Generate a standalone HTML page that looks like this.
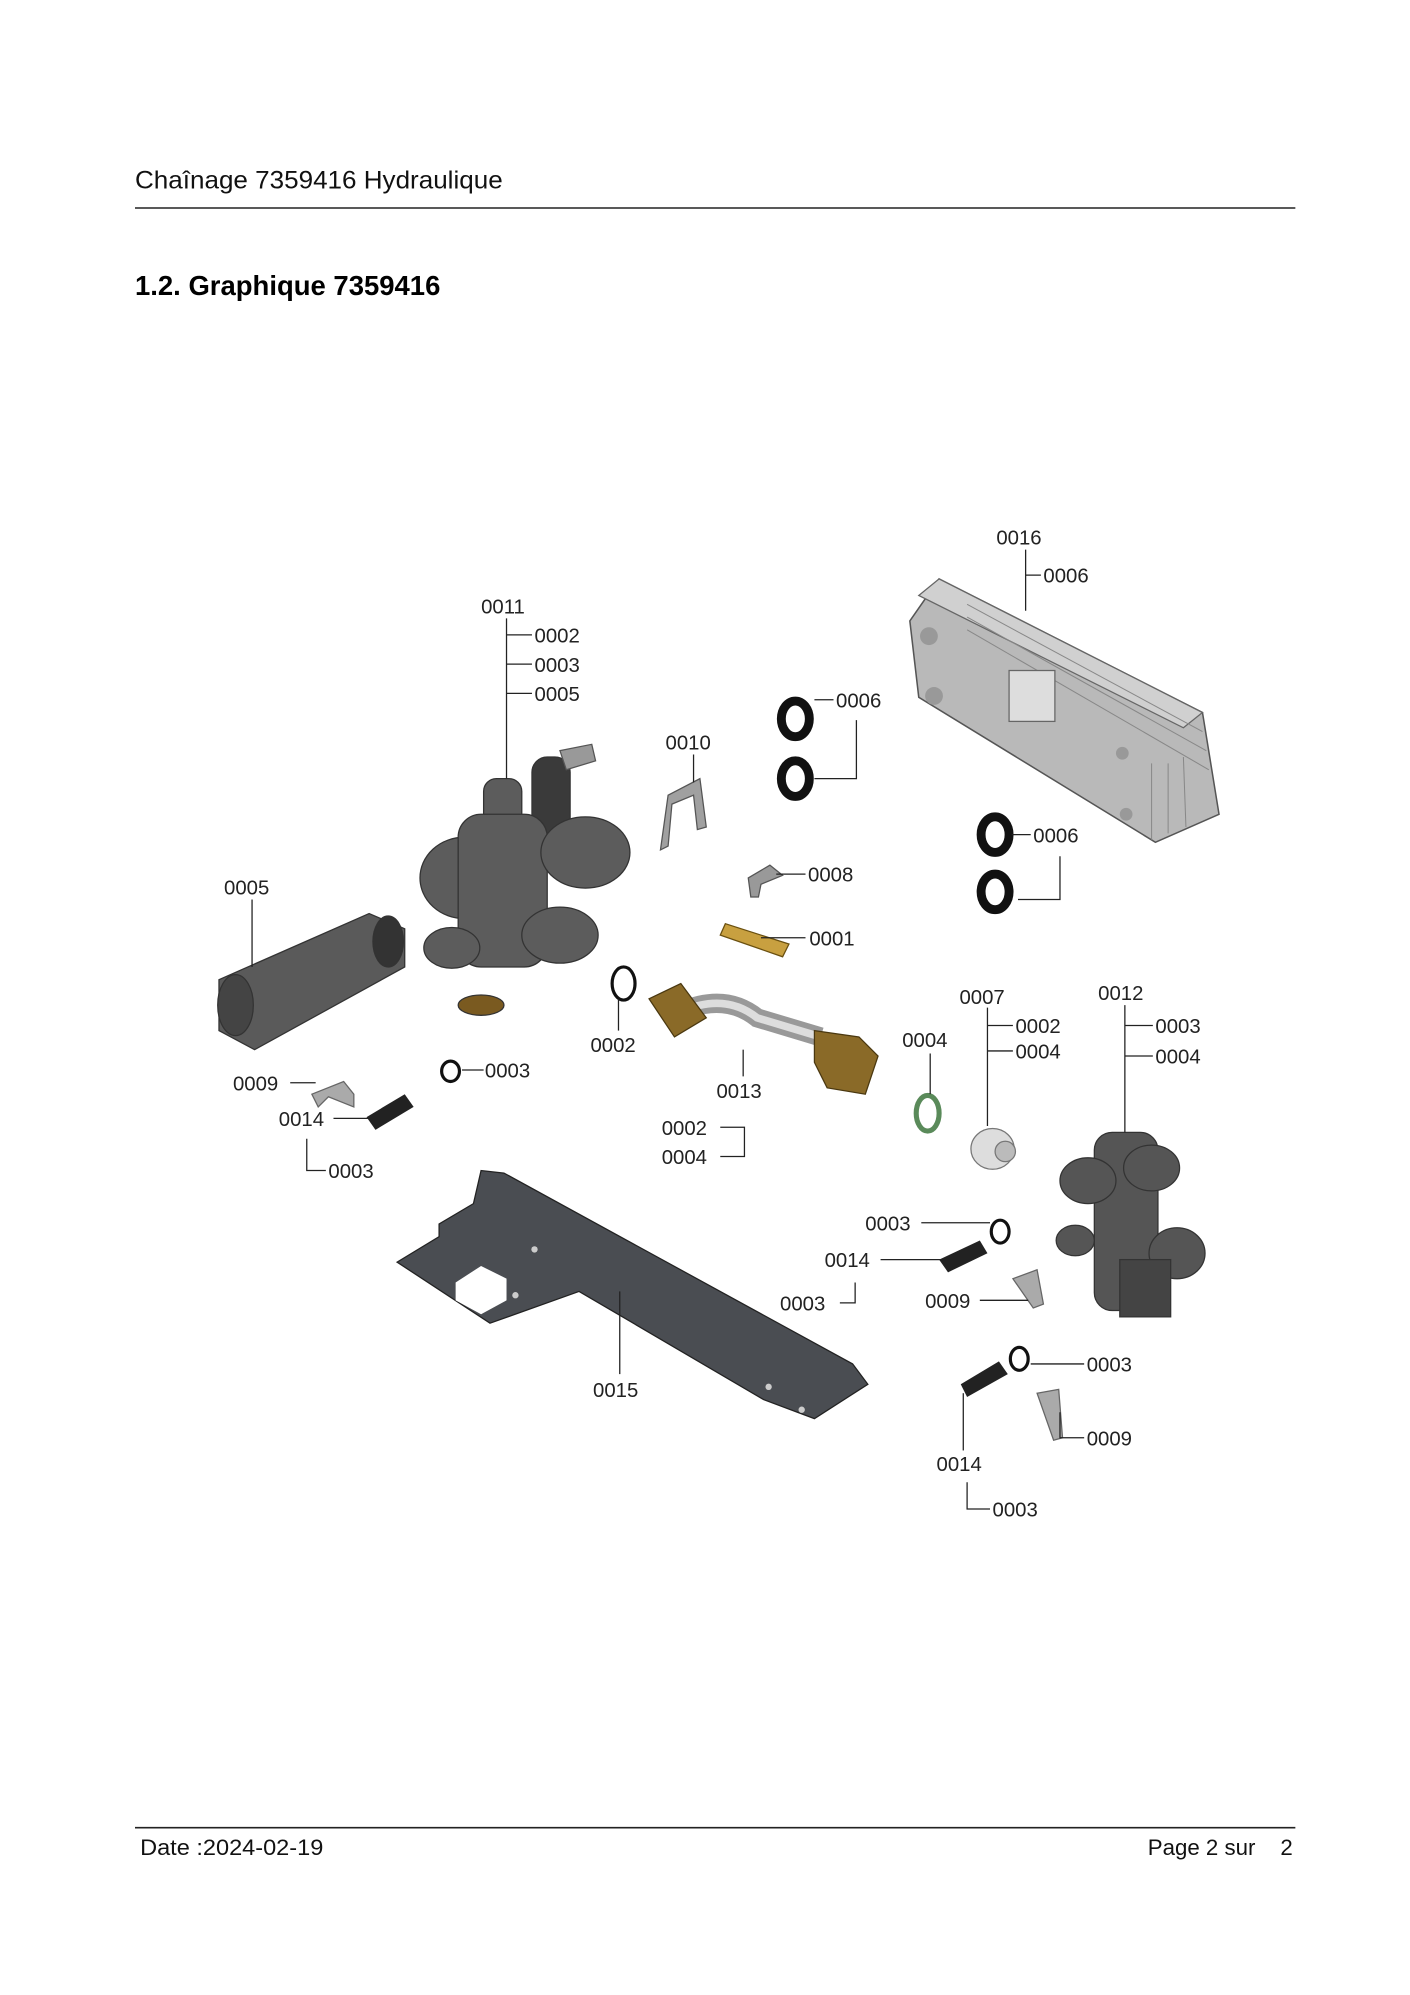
<!DOCTYPE html>
<html><head><meta charset="utf-8"><style>
html,body{margin:0;padding:0;background:#fff}
body{width:1410px;height:1995px;position:relative;overflow:hidden;font-family:"Liberation Sans",sans-serif}
svg{position:absolute;left:0;top:0}
</style></head><body>
<svg width="1410" height="1995" viewBox="0 0 1108 1568" xmlns="http://www.w3.org/2000/svg" font-family="Liberation Sans, sans-serif">
<text x="106" y="148" font-size="19.5" fill="#111" textLength="289" lengthAdjust="spacingAndGlyphs">Chaînage 7359416 Hydraulique</text>
<line x1="106" y1="163.5" x2="1018" y2="163.5" stroke="#222" stroke-width="1.2"/>
<text x="106" y="232" font-size="22" font-weight="bold" fill="#000" textLength="240" lengthAdjust="spacingAndGlyphs">1.2. Graphique 7359416</text>
<line x1="106" y1="1436.5" x2="1018" y2="1436.5" stroke="#222" stroke-width="1.2"/>
<text x="110" y="1458" font-size="17.5" fill="#111" textLength="144" lengthAdjust="spacingAndGlyphs">Date :2024-02-19</text>
<text x="902" y="1458" font-size="17.5" fill="#111">Page 2 sur</text>
<text x="1016" y="1458" font-size="17.5" fill="#111" text-anchor="end">2</text>

<!-- heat exchanger -->
<polygon points="738,455 945,560 958,640 908,662 722,548 715,488" fill="#b9b9b9" stroke="#555" stroke-width="1.2"/>
<polygon points="738,455 945,560 930,572 722,468" fill="#d0d0d0" stroke="#666"/>
<g stroke="#888" stroke-width="0.8"><line x1="760" y1="475" x2="945" y2="575"/><line x1="760" y1="485" x2="948" y2="590"/><line x1="760" y1="495" x2="950" y2="605"/><line x1="905" y1="600" x2="905" y2="660"/><line x1="918" y1="600" x2="918" y2="655"/><line x1="930" y1="595" x2="932" y2="650"/></g>
<rect x="793" y="527" width="36" height="40" fill="#ddd" stroke="#666"/>
<circle cx="730" cy="500" r="7" fill="#999"/><circle cx="734" cy="547" r="7" fill="#999"/>
<circle cx="882" cy="592" r="5" fill="#999"/><circle cx="885" cy="640" r="5" fill="#999"/>

<!-- valve body 0011 -->
<g fill="#5c5c5c" stroke="#333" stroke-width="1">
<rect x="380" y="612" width="30" height="60" rx="10"/>
<rect x="418" y="595" width="30" height="65" rx="12" fill="#3a3a3a"/>
<ellipse cx="365" cy="690" rx="35" ry="32"/>
<rect x="360" y="640" width="70" height="120" rx="18"/>
<ellipse cx="460" cy="670" rx="35" ry="28"/>
<ellipse cx="440" cy="735" rx="30" ry="22"/>
<ellipse cx="355" cy="745" rx="22" ry="16"/>
<ellipse cx="378" cy="790" rx="18" ry="8" fill="#7a5a20"/>
</g>
<polygon points="440,590 465,585 468,598 445,605" fill="#999" stroke="#555"/>
<!-- 0005 cylinder -->
<g stroke="#333"><polygon points="172,770 290,718 318,730 318,760 200,825 172,810" fill="#5a5a5a"/>
<ellipse cx="185" cy="790" rx="14" ry="24" fill="#444"/><ellipse cx="305" cy="740" rx="12" ry="20" fill="#333"/></g>
<!-- clip 0010 -->
<polygon points="525,625 550,612 555,650 548,652 545,625 528,632 525,665 519,668" fill="#a0a0a0" stroke="#555"/>
<!-- o-rings 0006 -->
<g fill="none" stroke="#111" stroke-width="7"><ellipse cx="625" cy="565" rx="11" ry="14"/><ellipse cx="625" cy="612" rx="11" ry="14"/><ellipse cx="782" cy="656" rx="11" ry="14"/><ellipse cx="782" cy="701" rx="11" ry="14"/></g>
<!-- 0008 clip, 0001 sensor -->
<polygon points="588,690 605,680 615,688 598,695 596,705 590,705" fill="#999" stroke="#555"/>
<polygon points="570,726 620,742 615,752 566,735" fill="#c8a040" stroke="#6a5010"/>
<!-- 0002 ring -->
<ellipse cx="490" cy="773" rx="9" ry="13" fill="none" stroke="#111" stroke-width="2.5"/>
<!-- pipe 0013 -->
<path d="M535 795 Q570 780 595 800 L645 815" stroke="#999" stroke-width="15" fill="none"/>
<path d="M535 795 Q570 780 595 800 L645 815" stroke="#ddd" stroke-width="6" fill="none"/>
<polygon points="510,785 535,773 555,800 530,815" fill="#8a6a28" stroke="#4a3810"/>
<polygon points="640,810 675,815 690,830 680,860 650,855 640,835" fill="#8a6a28" stroke="#4a3810"/>
<!-- 0004 green ring -->
<ellipse cx="729" cy="875" rx="9" ry="14" fill="none" stroke="#5a8a5a" stroke-width="4"/>
<!-- 0007 filter -->
<ellipse cx="780" cy="903" rx="17" ry="16" fill="#ddd" stroke="#777"/><circle cx="790" cy="905" r="8" fill="#bbb" stroke="#777"/>
<!-- 0012 body -->
<g fill="#555" stroke="#333"><rect x="860" y="890" width="50" height="140" rx="14"/><ellipse cx="855" cy="928" rx="22" ry="18"/><ellipse cx="905" cy="918" rx="22" ry="18"/><ellipse cx="845" cy="975" rx="15" ry="12"/><ellipse cx="925" cy="985" rx="22" ry="20"/><rect x="880" y="990" width="40" height="45" fill="#444"/></g>
<!-- bracket 0015 -->
<polygon points="312,992 345,972 345,962 372,946 378,920 396,922 670,1072 682,1088 640,1115 600,1100 455,1015 385,1040" fill="#4a4d52" stroke="#222"/>
<polygon points="358,1008 378,995 398,1005 398,1022 378,1033 358,1022" fill="#fff"/>
<circle cx="420" cy="982" r="2.5" fill="#ccc"/><circle cx="405" cy="1018" r="2.5" fill="#ccc"/><circle cx="604" cy="1090" r="2.5" fill="#ccc"/><circle cx="630" cy="1108" r="2.5" fill="#ccc"/>
<!-- small parts -->
<polygon points="245,860 270,850 278,860 278,870 258,862 250,870" fill="#aaa" stroke="#666"/>
<polygon points="288,878 318,860 325,870 295,888" fill="#222"/>
<ellipse cx="354" cy="842" rx="7" ry="8" fill="none" stroke="#111" stroke-width="2.5"/>
<polygon points="738,990 770,975 776,985 745,1000" fill="#222"/>
<ellipse cx="786" cy="968" rx="7" ry="9" fill="none" stroke="#111" stroke-width="2.5"/>
<polygon points="796,1005 815,998 820,1025 812,1028" fill="#aaa" stroke="#666"/>
<polygon points="755,1088 785,1070 792,1080 760,1098" fill="#222"/>
<ellipse cx="801" cy="1068" rx="7" ry="9" fill="none" stroke="#111" stroke-width="2.5"/>
<polygon points="815,1095 832,1092 835,1130 828,1132" fill="#aaa" stroke="#666"/>

<!-- leader lines -->
<g stroke="#222" stroke-width="1" fill="none">
<path d="M806 432V480M806 452H818"/>
<path d="M398 486V612M398 499H418M398 522H418M398 545H418"/>
<path d="M640 550H655M673 566V612H640"/>
<path d="M545 593V615"/>
<path d="M198 707V760"/>
<path d="M610 687H633"/><path d="M598 737H633"/>
<path d="M795 656H810M833 673V707H800"/>
<path d="M486 785V810"/><path d="M584 825V846"/>
<path d="M566 886H585V909H566"/>
<path d="M731 828V860"/>
<path d="M776 792V885M776 806H796M776 826H796"/>
<path d="M884 790V890M884 806H906M884 830H906"/>
<path d="M228 851H248"/><path d="M363 841H380"/><path d="M262 879H290"/>
<path d="M241 895V920H256"/>
<path d="M724 961H778"/><path d="M692 990H740"/><path d="M660 1024H672V1008"/><path d="M770 1022H808"/>
<path d="M487 1015V1080"/>
<path d="M810 1072H852"/><path d="M833 1110V1130H852"/>
<path d="M757 1095V1140"/><path d="M760 1165V1186H778"/>
</g>
<g font-size="16" fill="#222">
<text x="783" y="428">0016</text><text x="820" y="458">0006</text>
<text x="378" y="482">0011</text><text x="420" y="505">0002</text><text x="420" y="528">0003</text><text x="420" y="551">0005</text>
<text x="657" y="556">0006</text><text x="523" y="589">0010</text>
<text x="176" y="703">0005</text><text x="635" y="693">0008</text><text x="636" y="743">0001</text>
<text x="812" y="662">0006</text>
<text x="464" y="827">0002</text><text x="563" y="863">0013</text>
<text x="520" y="892">0002</text><text x="520" y="915">0004</text>
<text x="709" y="823">0004</text>
<text x="754" y="789">0007</text><text x="798" y="812">0002</text><text x="798" y="832">0004</text>
<text x="863" y="786">0012</text><text x="908" y="812">0003</text><text x="908" y="836">0004</text>
<text x="183" y="857">0009</text><text x="381" y="847">0003</text><text x="219" y="885">0014</text><text x="258" y="926">0003</text>
<text x="680" y="967">0003</text><text x="648" y="996">0014</text><text x="613" y="1030">0003</text><text x="727" y="1028">0009</text>
<text x="466" y="1098">0015</text>
<text x="854" y="1078">0003</text><text x="854" y="1136">0009</text>
<text x="736" y="1156">0014</text><text x="780" y="1192">0003</text>
</g>
</svg>
</body></html>
